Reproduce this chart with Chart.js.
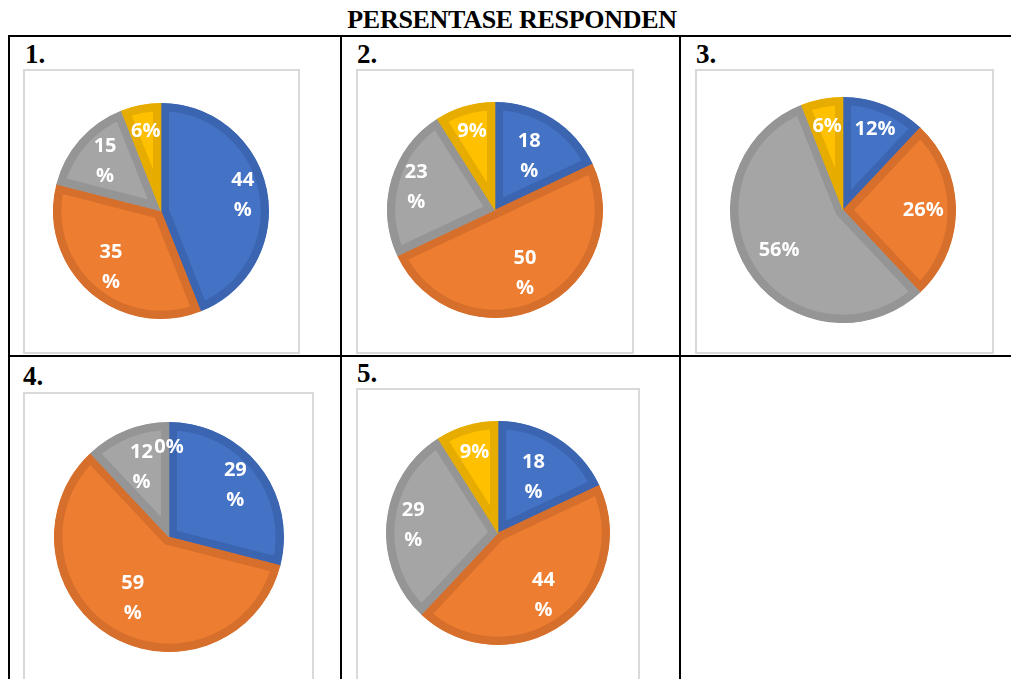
<!DOCTYPE html>
<html>
<head>
<meta charset="utf-8">
<script src="https://cdn.jsdelivr.net/npm/chart.js@4"></script>
<style>
  html, body { margin: 0; padding: 0; background: #fff; }
  #page { position: relative; width: 1011px; height: 679px; overflow: hidden; }
  .title {
    position: absolute; left: 0; top: 5px; width: 1024px; text-align: center;
    font: bold 26px "Liberation Serif", serif; letter-spacing: -0.3px; color: #000;
  }
  .line { position: absolute; background: #000; }
  .num { position: absolute; font: bold 27px "Liberation Serif", serif; color: #000; line-height: 1; }
  .box { position: absolute; border: 2px solid #d9d9d9; box-sizing: border-box; background: #fff; }
  canvas { position: absolute; }
</style>
</head>
<body>
<div id="page">
  <div class="title" id="title"></div>
</div>
<script>
// data
const titleText = 'PERSENTASE RESPONDEN';
const segments = ['A', 'B', 'C', 'D'];
const panelNumbers = ['1.', '2.', '3.', '4.', '5.'];
const values1 = [44, 35, 15, 6];
const values2 = [18, 50, 23, 9];
const values3 = [12, 26, 56, 6];
const values4 = [29, 59, 12, 0];
const values5 = [18, 44, 29, 9];

const fills = ['#4472c4', '#ed7d31', '#a5a5a5', '#ffc000'];
const outlines = ['#3b65b1', '#d66f2b', '#959595', '#e6ad00'];

// layout of each cell: number label, grey frame, pie centre/radius,
// label distance from centre (fraction of radius) and whether the label wraps
const panels = [
  { values: values1, num: [25, 41], box: [23, 69, 277, 285], c: [161, 211], r: 108,
    lr: [0.77, 0.70, 0.69, 0.75], wrap: [true, true, true, false] },
  { values: values2, num: [357, 41], box: [356, 69, 278, 285], c: [495, 210], r: 108,
    lr: [0.59, 0.65, 0.76, 0.76], wrap: [true, true, true, false] },
  { values: values3, num: [696, 41], box: [695, 69, 299, 285], c: [843, 210], r: 113,
    lr: [0.77, 0.71, 0.67, 0.75], wrap: [false, false, false, false] },
  { values: values4, num: [23, 363], box: [23, 392, 291, 300], c: [169, 537], r: 115,
    lr: [0.73, 0.62, 0.65, 0.78], wrap: [true, true, true, false] },
  { values: values5, num: [357, 360], box: [356, 388, 284, 300], c: [498, 533], r: 112,
    lr: [0.59, 0.69, 0.76, 0.75], wrap: [true, true, true, false] }
];

const page = document.getElementById('page');
document.getElementById('title').textContent = titleText;

// table rules
function rule(x, y, w, h) {
  const d = document.createElement('div');
  d.className = 'line';
  Object.assign(d.style, { left: x + 'px', top: y + 'px', width: w + 'px', height: h + 'px' });
  page.appendChild(d);
}
rule(8, 35, 1003, 2);
rule(8, 355, 1003, 2);
rule(8, 35, 2, 644);
rule(340, 35, 2, 644);
rule(679, 35, 2, 644);

// percentage labels drawn inside each slice
const sliceLabels = {
  id: 'sliceLabels',
  afterDatasetsDraw(chart, args, opts) {
    const ctx = chart.ctx;
    const meta = chart.getDatasetMeta(0);
    const vals = chart.data.datasets[0].data;
    ctx.save();
    ctx.fillStyle = '#ffffff';
    ctx.font = 'bold 20px "Open Sans", sans-serif';
    ctx.textAlign = 'center';
    ctx.textBaseline = 'middle';
    meta.data.forEach((arc, i) => {
      const p = arc.getProps(['x', 'y', 'startAngle', 'endAngle', 'outerRadius'], true);
      const mid = (p.startAngle + p.endAngle) / 2;
      const d = p.outerRadius * opts.radii[i];
      const x = p.x + Math.cos(mid) * d;
      const y = p.y + Math.sin(mid) * d;
      if (opts.wrap[i]) {
        ctx.fillText(String(vals[i]), x, y - 15);
        ctx.fillText('%', x, y + 15);
      } else {
        ctx.fillText(vals[i] + '%', x, y);
      }
    });
    ctx.restore();
  }
};

panels.forEach((p, k) => {
  const n = document.createElement('div');
  n.className = 'num';
  n.textContent = panelNumbers[k];
  Object.assign(n.style, { left: p.num[0] + 'px', top: p.num[1] + 'px' });
  page.appendChild(n);

  const b = document.createElement('div');
  b.className = 'box';
  Object.assign(b.style, { left: p.box[0] + 'px', top: p.box[1] + 'px', width: p.box[2] + 'px', height: p.box[3] + 'px' });
  page.appendChild(b);

  const cv = document.createElement('canvas');
  const size = p.r * 2;
  cv.width = size;
  cv.height = size;
  Object.assign(cv.style, { left: (p.c[0] - p.r) + 'px', top: (p.c[1] - p.r) + 'px', width: size + 'px', height: size + 'px' });
  page.appendChild(cv);

  new Chart(cv.getContext('2d'), {
    type: 'pie',
    data: {
      labels: segments,
      datasets: [{
        data: p.values,
        backgroundColor: fills,
        borderColor: outlines,
        borderWidth: 8,
        borderAlign: 'inner',
        borderJoinStyle: 'miter',
        hoverBorderWidth: 8
      }]
    },
    options: {
      responsive: false,
      animation: false,
      events: [],
      layout: { padding: 0 },
      plugins: {
        legend: { display: false },
        tooltip: { enabled: false },
        sliceLabels: { radii: p.lr, wrap: p.wrap }
      }
    },
    plugins: [sliceLabels]
  });
});
</script>
</body>
</html>
